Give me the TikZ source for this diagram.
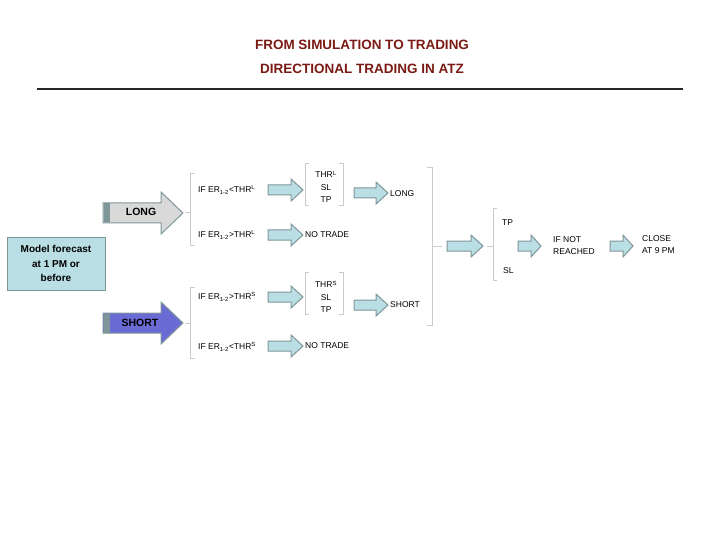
\documentclass[tikz,border=0pt]{standalone}
\usepackage{fontspec}
\setmainfont{Liberation Sans}
\definecolor{ttl}{HTML}{7A1A14}
\definecolor{lb}{HTML}{B9DEE4}
\definecolor{gb}{HTML}{7F9699}
\definecolor{br}{HTML}{C8CCCC}
\definecolor{sp}{HTML}{6B6BD6}
% \myarr{name}{x}{y}{length}{body half}{head half}{head length}{fill}
\newcommand{\myarr}[8]{%
  \draw[draw=gb, fill=#8, line width=1pt, line join=miter]
    (#2,#3-#5) -- (#2+#4-#7,#3-#5) -- (#2+#4-#7,#3-#6) -- (#2+#4,#3) -- (#2+#4-#7,#3+#6)
    -- (#2+#4-#7,#3+#5) -- (#2,#3+#5) -- cycle;
  \coordinate (#1) at (#2+#4/2,#3);}
\tikzset{
  txt/.style={font=\fontsize{8.5}{10}\selectfont, inner sep=0pt, align=center},
  brk/.style={draw=br, line width=0.8pt},
}
\begin{document}
\begin{tikzpicture}[x=1pt,y=-1pt]
\useasboundingbox (0,0) rectangle (720,540);
\node[text=ttl, font=\bfseries\fontsize{13.5}{24}\selectfont, align=center] (title) at (362,57) {FROM SIMULATION TO TRADING\\DIRECTIONAL TRADING IN ATZ};
\draw[line width=2.5pt, black!85] (37,89) -- (683,89);
\node[draw=gb, fill=lb, line width=1pt, minimum width=98pt, minimum height=53pt, align=center, font=\bfseries\fontsize{10}{14.5}\selectfont] (mf) at (56,263.5) {Model forecast\\at 1 PM or\\before};
% big arrows
\myarr{long}{103}{213}{80}{10}{21}{22}{black!15}
\fill[gb] (103.5,203.5) rectangle (110,222.5);
\node[font=\bfseries\fontsize{10.5}{12}\selectfont] (longt) at (141,212) {LONG};
\myarr{short}{103}{323}{80}{10}{21}{22}{sp}
\fill[gb] (103.5,313.5) rectangle (110,332.5);
\node[font=\bfseries\fontsize{10.5}{12}\selectfont] (shortt) at (140,323) {SHORT};
% brackets
\draw[brk] (195,173) -- (190,173) -- (190,245) -- (195,245) (190,212) -- (185,212);
\draw[brk] (195,287) -- (190,287) -- (190,358) -- (195,358) (190,323) -- (185,323);
% conditions
\node[txt, anchor=west] (c1) at (198,190) {IF ER\textsubscript{1-2}<THR\textsuperscript{L}};
\node[txt, anchor=west] (c2) at (198,235) {IF ER\textsubscript{1-2}>THR\textsuperscript{L}};
\node[txt, anchor=west] (c3) at (198,297) {IF ER\textsubscript{1-2}>THR\textsuperscript{S}};
\node[txt, anchor=west] (c4) at (198,347) {IF ER\textsubscript{1-2}<THR\textsuperscript{S}};
\myarr{a1}{268}{190}{35}{5}{11}{12}{lb}
\myarr{a2}{268}{235}{35}{5}{11}{12}{lb}
\myarr{a3}{268}{297}{35}{5}{11}{12}{lb}
\myarr{a4}{268}{346}{35}{5}{11}{12}{lb}
\node[txt, font=\fontsize{8.5}{12.5}\selectfont] (t1) at (326,187) {THR\textsuperscript{L}\\SL\\TP};
\node[txt, font=\fontsize{8.5}{12.5}\selectfont] (t2) at (326,297) {THR\textsuperscript{S}\\SL\\TP};
\node[txt, anchor=west] (nt1) at (305,235) {NO TRADE};
\node[txt, anchor=west] (nt2) at (305,346) {NO TRADE};
\draw[brk] (309,163) -- (305,163) -- (305,205) -- (309,205);
\draw[brk] (339,163) -- (343,163) -- (343,205) -- (339,205);
\draw[brk] (309,272) -- (305,272) -- (305,314) -- (309,314);
\draw[brk] (339,272) -- (343,272) -- (343,314) -- (339,314);
\myarr{a5}{354}{193}{34}{5}{11}{12}{lb}
\myarr{a6}{354}{305}{34}{5}{11}{12}{lb}
\node[txt, anchor=west] (lg) at (390,194) {LONG};
\node[txt, anchor=west] (sh) at (390,305) {SHORT};
\draw[brk] (427,167) -- (432,167) -- (432,325) -- (427,325) (432,246) -- (442,246);
\myarr{a7}{447}{246}{36}{5}{11}{12}{lb}
\draw[brk] (497,208) -- (493,208) -- (493,280) -- (497,280) (493,246) -- (487,246);
\node[txt, anchor=west] (tp) at (502,223) {TP};
\node[txt, anchor=west] (sl) at (503,271) {SL};
\myarr{a8}{518}{246}{23}{5}{11}{10}{lb}
\node[txt, anchor=west, align=left, font=\fontsize{8.5}{12}\selectfont] (inr) at (553,246) {IF NOT\\REACHED};
\myarr{a9}{610}{246}{23}{5}{11}{10}{lb}
\node[txt, anchor=west, align=left, font=\fontsize{8.5}{12}\selectfont] (cl) at (642,245) {CLOSE\\AT 9 PM};
\end{tikzpicture}
\end{document}
